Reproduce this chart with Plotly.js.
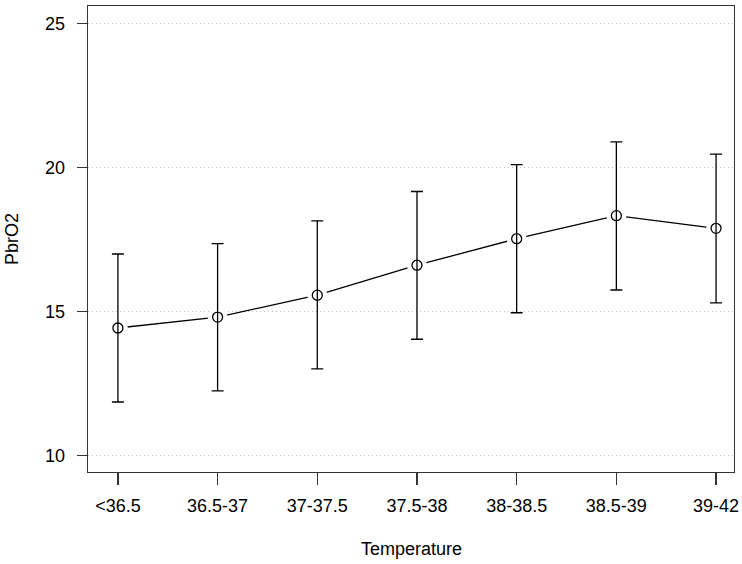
<!DOCTYPE html>
<html>
<head>
<meta charset="utf-8">
<script src="https://cdn.plot.ly/plotly-3.0.1.min.js"></script>
<style>
  html, body { margin: 0; padding: 0; background: #fff; }
  #plot { width: 742px; height: 564px; }
</style>
</head>
<body>
<div id="plot"></div>
<script>
// temperature bands and mean PbrO2 with error bars
var categories = ["<36.5", "36.5-37", "37-37.5", "37.5-38", "38-38.5", "38.5-39", "39-42"];
var meanPbrO2 = [14.42, 14.80, 15.56, 16.60, 17.52, 18.32, 17.88];
var errUpper = [2.57, 2.55, 2.58, 2.56, 2.57, 2.56, 2.58];
var errLower = [2.57, 2.56, 2.56, 2.57, 2.57, 2.58, 2.59];
var yTicks = [10, 15, 20, 25];

var xIdx = categories.map(function (c, i) { return i; });

// line between points
var line = {
  x: xIdx, y: meanPbrO2,
  type: 'scatter', mode: 'lines',
  line: {color: '#000', width: 1.3},
  hoverinfo: 'skip'
};

// white blobs so the line stops short of each circle (R type="b")
var gaps = {
  x: xIdx, y: meanPbrO2,
  type: 'scatter', mode: 'markers',
  marker: {symbol: 'circle', size: 20, color: '#fff', line: {width: 0}},
  hoverinfo: 'skip'
};

var points = {
  x: xIdx, y: meanPbrO2,
  type: 'scatter', mode: 'markers',
  marker: {symbol: 'circle-open', size: 10, color: '#000', line: {width: 1.3, color: '#000'}},
  error_y: {
    type: 'data', symmetric: false,
    array: errUpper, arrayminus: errLower,
    color: '#000', thickness: 1.3, width: 6
  }
};

var font = {family: 'Liberation Sans, Arial, sans-serif', size: 18, color: '#000'};

var layout = {
  width: 742, height: 564,
  margin: {l: 88, r: 8, t: 6, b: 92},
  showlegend: false,
  paper_bgcolor: '#fff', plot_bgcolor: '#fff',
  font: font,
  xaxis: {
    range: [-0.3, 6.18],
    tickmode: 'array', tickvals: xIdx, ticktext: categories,
    ticks: 'outside', ticklen: 12, tickwidth: 1.3, tickcolor: '#333',
    ticklabelstandoff: 5,
    showgrid: false, zeroline: false,
    showline: true, mirror: true, linecolor: '#333', linewidth: 1.3,
    tickfont: font
  },
  yaxis: {
    range: [9.42, 25.6],
    tickmode: 'array', tickvals: yTicks,
    ticks: 'outside', ticklen: 10, tickwidth: 1.3, tickcolor: '#333',
    ticklabelstandoff: 8,
    showgrid: true, gridcolor: '#bbbbbb', griddash: '1px,3px', gridwidth: 1,
    zeroline: false,
    showline: true, mirror: true, linecolor: '#333', linewidth: 1.3,
    tickfont: font
  },
  annotations: [
    {text: 'Temperature', xref: 'paper', yref: 'paper', x: 0.5, y: 0,
     xanchor: 'center', yanchor: 'middle', yshift: -77, showarrow: false, font: font},
    {text: 'PbrO2', xref: 'paper', yref: 'paper', x: 0, y: 0.5, textangle: -90,
     xanchor: 'center', yanchor: 'middle', xshift: -76, showarrow: false, font: font}
  ]
};

Plotly.newPlot('plot', [line, gaps, points], layout, {displayModeBar: false, staticPlot: true});
</script>
</body>
</html>
